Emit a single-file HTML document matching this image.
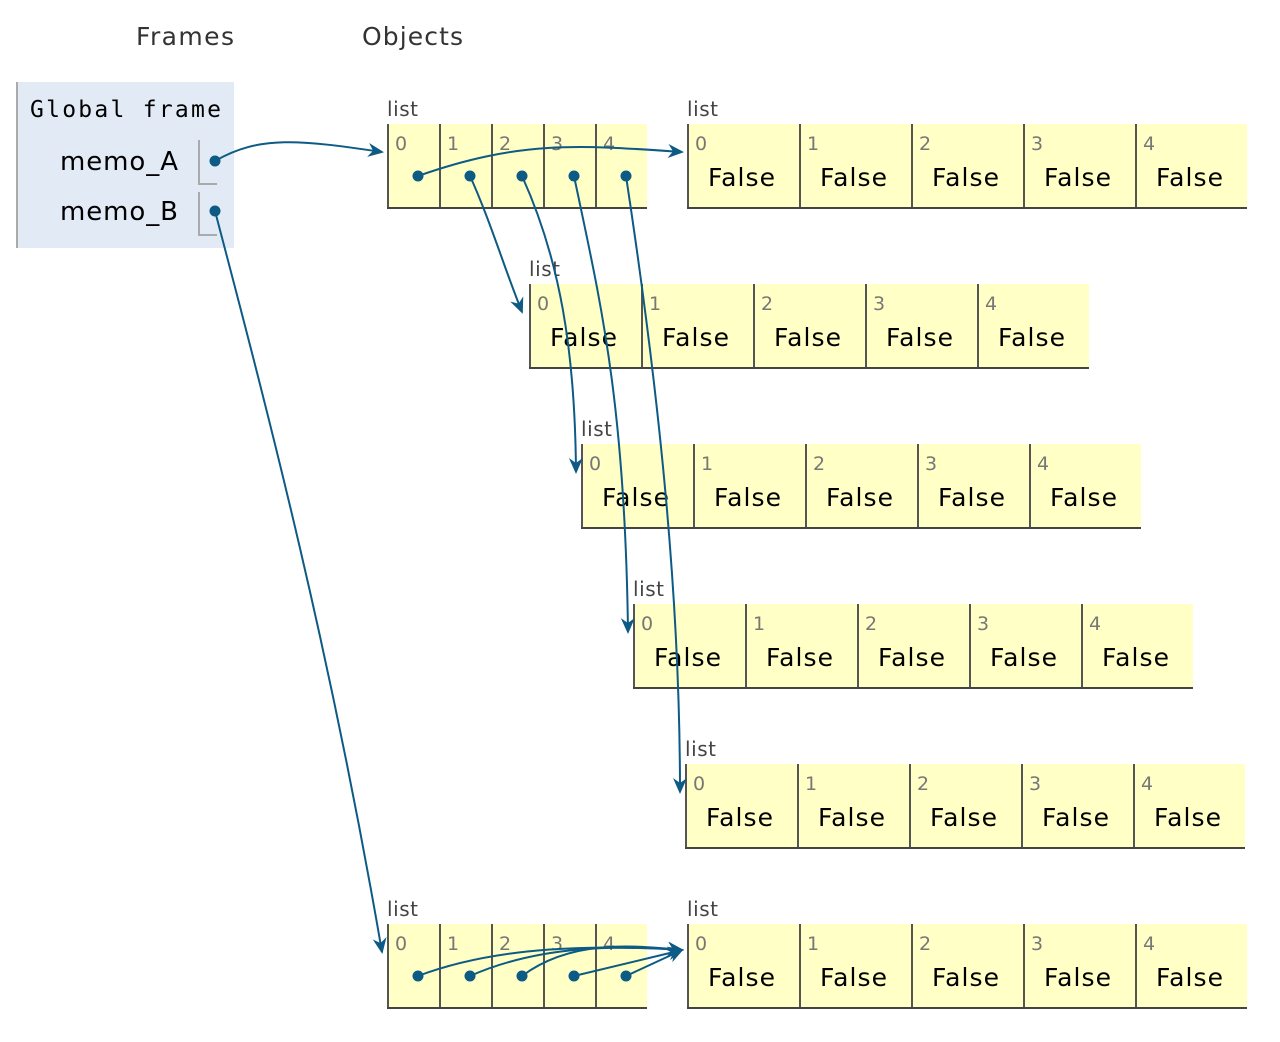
<!DOCTYPE html>
<html><head><meta charset="utf-8"><style>
html,body{margin:0;padding:0;background:#fff;width:1280px;height:1042px;overflow:hidden}
svg text{font-family:"DejaVu Sans","Liberation Sans",sans-serif}
</style></head><body>
<svg width="1280" height="1042" xmlns="http://www.w3.org/2000/svg">
<defs>
<marker id="ah" markerWidth="18" markerHeight="16" refX="14" refY="8" orient="auto" markerUnits="userSpaceOnUse">
<path d="M0,1 L16,8 L0,15 L5,8 Z" fill="#0d5a85"/>
</marker>
</defs>
<text x="136" y="45" font-size="25" fill="#333" textLength="98">Frames</text>
<text x="362" y="45" font-size="25" fill="#333" textLength="101">Objects</text>
<rect x="16" y="82" width="218" height="166" fill="#e2eaf5"/>
<line x1="17" y1="82" x2="17" y2="248" stroke="#aaa" stroke-width="2"/>
<text x="30" y="117" font-size="23" textLength="191" style="font-family:'DejaVu Sans Mono','Liberation Mono',monospace">Global frame</text>
<text x="60" y="170" font-size="26" textLength="118">memo_A</text>
<text x="60" y="220" font-size="26" textLength="118">memo_B</text>
<path d="M199,140 V184 H217" fill="none" stroke="#aaa" stroke-width="2"/>
<path d="M199,192 V235 H217" fill="none" stroke="#aaa" stroke-width="2"/>
<g id="lists"></g>
<g fill="none" stroke="#0d5a85" stroke-width="2" marker-end="url(#ah)">
<path d="M215,161 C260,135 300,140 382,152"/>
<path d="M215,211 C270,420 330,650 382,952"/>
<path d="M418,176 C520,140 580,145 682,152"/>
<path d="M470,176 C490,220 505,270 522,312"/>
<path d="M522,176 C560,260 575,350 576,472"/>
<path d="M574,176 C600,300 625,400 628,632"/>
<path d="M626,176 C660,400 680,600 680,792"/>
<path d="M418,976 C500,945 600,945 682,950"/>
<path d="M470,976 C540,945 620,945 682,950"/>
<path d="M522,976 C570,940 630,945 682,950"/>
<path d="M574,976 C620,965 650,958 682,950"/>
<path d="M626,976 C650,965 665,958 682,950"/>
</g>
<g fill="#0d5a85">
<circle cx="215" cy="161" r="5.5"/><circle cx="215" cy="211" r="5.5"/>
<circle cx="418" cy="176" r="5.5"/><circle cx="470" cy="176" r="5.5"/><circle cx="522" cy="176" r="5.5"/><circle cx="574" cy="176" r="5.5"/><circle cx="626" cy="176" r="5.5"/>
<circle cx="418" cy="976" r="5.5"/><circle cx="470" cy="976" r="5.5"/><circle cx="522" cy="976" r="5.5"/><circle cx="574" cy="976" r="5.5"/><circle cx="626" cy="976" r="5.5"/>
</g>
</svg>
<script>
var g=document.getElementById('lists'),NS="http://www.w3.org/2000/svg";
function el(t,a,txt){var e=document.createElementNS(NS,t);for(var k in a)e.setAttribute(k,a[k]);if(txt)e.textContent=txt;g.appendChild(e);return e;}
function list(x,y,w,vals){
 x=x-1;
 el('text',{x:x,y:y-8,'font-size':20,fill:'#444',textLength:31},'list');
 el('rect',{x:x,y:y,width:w*5,height:84,fill:'#ffffc6'});
 for(var i=0;i<5;i++){var cx=x+i*w;
  el('line',{x1:cx+1,y1:y,x2:cx+1,y2:y+84,stroke:'#555','stroke-width':2});
  el('text',{x:cx+8,y:y+26,'font-size':19,fill:'#777'},String(i));
  if(vals)el('text',{x:cx+21,y:y+62,'font-size':25,fill:'#000',textLength:67},'False');}
 el('line',{x1:x,y1:y+84,x2:x+w*5,y2:y+84,stroke:'#444','stroke-width':2});
}
list(388,124,52,false);list(688,124,112,true);list(530,284,112,true);list(582,444,112,true);
list(634,604,112,true);list(686,764,112,true);list(388,924,52,false);list(688,924,112,true);
</script>
</body></html>
